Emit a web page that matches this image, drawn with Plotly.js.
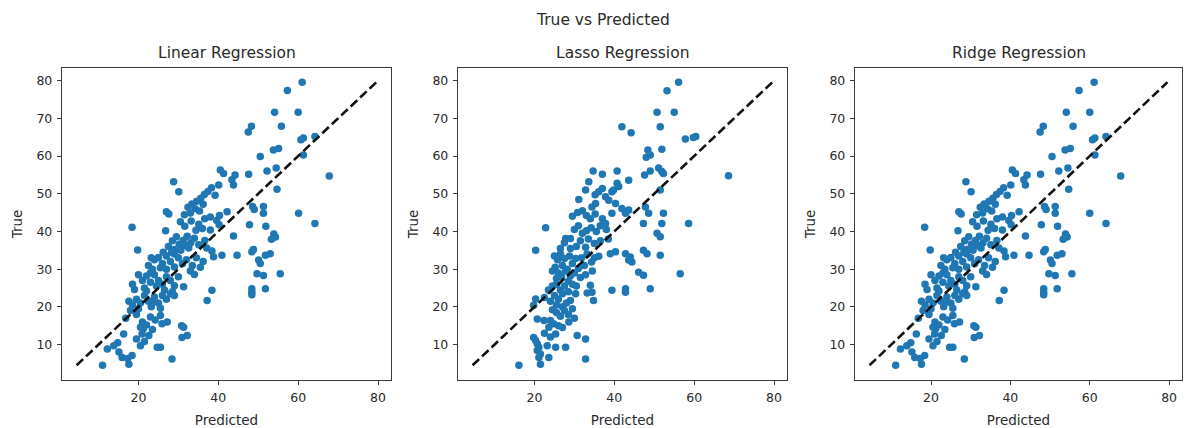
<!DOCTYPE html>
<html>
<head>
<meta charset="utf-8">
<script src="https://cdn.plot.ly/plotly-3.0.1.min.js"></script>
<style>
  html, body { margin: 0; padding: 0; background: #fff; }
  #chart { width: 1186px; height: 428px; }
</style>
</head>
<body>
<div id="chart"></div>
<script>
// Test-set outcomes against model predictions: [predicted, true]
const linearPoints = [
  [61.0,79.6],[57.3,77.4],[54.1,71.6],[60.0,71.6],[55.8,67.9],[47.5,66.4],[48.3,67.9],[60.7,64.3],[61.3,64.8],[64.2,65.2],
  [61.3,60.3],[53.8,61.6],[55.1,62.0],[50.5,59.9],[67.8,54.7],[47.6,55.2],[52.2,56.0],[54.5,56.8],[40.5,56.3],[41.3,55.4],
  [44.2,55.0],[28.8,53.2],[30.1,50.5],[43.4,53.7],[43.8,52.3],[54.7,51.2],[40.1,52.3],[38.3,51.6],[37.4,50.6],[36.5,49.8],
  [39.2,49.6],[35.6,48.8],[34.6,48.0],[33.4,47.3],[32.4,46.4],[36.2,47.2],[34.2,46.0],[35.3,45.4],[33.0,44.9],[31.5,44.4],
  [27.0,45.2],[27.6,44.6],[42.2,45.2],[51.3,46.6],[51.3,44.8],[60.1,44.8],[48.6,46.6],[49.0,45.8],[40.3,44.2],[38.0,43.8],
  [36.6,43.4],[47.8,41.8],[51.9,41.4],[26.8,40.2],[30.5,42.6],[31.6,41.4],[33.2,42.8],[35.1,41.9],[39.6,42.9],[40.2,41.8],
  [36.0,40.8],[34.4,40.3],[38.0,40.4],[18.4,41.1],[64.2,42.1],[53.9,39.3],[54.3,38.5],[53.3,37.9],[43.8,38.8],[19.8,35.1],
  [28.5,37.5],[29.5,38.6],[30.2,36.6],[31.2,37.6],[32.2,38.7],[33.1,37.0],[34.0,38.2],[35.1,36.5],[36.6,37.6],[32.6,35.6],
  [30.6,35.0],[27.5,36.0],[37.1,35.6],[38.4,34.8],[26.2,34.5],[29.0,35.2],[31.8,36.2],
  [48.4,34.6],[48.8,35.2],[40.9,33.7],[44.7,33.7],[50.1,32.4],[50.5,31.5],[51.8,33.7],[53.0,34.1],[38.8,33.3],[24.0,32.5],
  [25.0,33.1],[26.0,31.5],[27.0,33.5],[28.0,32.0],[29.0,34.0],[30.0,33.0],[31.0,31.4],[32.0,32.5],[33.5,31.0],[34.5,33.0],
  [35.5,30.5],[36.2,32.0],[22.5,31.0],[23.5,30.0],[25.5,30.4],[27.0,30.0],[29.0,30.6],[33.0,29.5],[34.0,28.6],[23.2,33.0],[28.3,34.5],
  [49.7,28.8],[51.3,28.3],[55.5,28.8],[48.4,24.8],[48.4,23.9],[51.8,24.8],[38.4,24.4],[31.3,25.3],[18.5,26.0],[19.0,24.6],
  [21.0,27.0],[22.0,28.2],[23.0,26.5],[24.0,28.5],[25.0,27.0],[26.0,26.0],[27.0,28.0],[28.0,27.0],[29.0,25.6],[21.5,25.0],
  [24.5,25.5],[26.5,24.5],[28.5,24.0],[23.0,29.0],[20.0,28.5],[30.0,28.0],
  [48.4,23.2],[37.2,21.7],[17.6,21.5],[18.5,20.5],[19.5,22.0],[20.5,21.0],[21.5,23.0],[22.5,21.5],[23.2,20.0],[24.0,22.6],
  [25.0,21.0],[26.0,23.0],[27.0,22.0],[28.0,23.5],[29.0,23.0],[22.0,24.2],[20.0,19.5],[25.5,19.6],[23.8,21.3],
  [18.0,19.0],[19.5,18.0],[16.8,17.0],[21.0,16.0],[23.0,17.3],[25.5,17.7],[25.9,15.5],[24.2,16.5],[22.0,15.2],[27.2,16.0],
  [30.8,15.0],[21.2,14.2],[23.5,14.0],
  [16.3,12.8],[20.5,14.6],[20.9,12.8],[22.6,12.4],[31.3,14.6],[32.2,12.4],[30.9,11.9],[19.5,11.5],[21.5,10.8],[14.8,10.5],
  [13.8,9.7],[20.5,9.7],[24.7,9.3],[25.5,9.3],
  [15.1,8.0],[15.9,6.6],[12.2,8.8],[17.6,4.8],[18.4,7.1],[11.0,4.5],[28.4,6.2],[17.3,6.3]
];

const lassoPoints = [
  [56.1,79.6],[53.2,77.3],[50.7,71.6],[55.0,71.6],[51.5,67.8],[41.9,67.8],[44.2,66.2],[57.8,64.5],[59.8,64.9],[60.4,65.2],
  [51.9,61.8],[48.4,61.6],[49.0,60.3],[48.0,59.7],[68.6,54.8],[51.1,56.8],[51.9,55.9],[52.3,55.4],[47.6,55.0],[49.0,56.0],
  [40.7,56.0],[34.7,56.0],[37.0,55.2],[43.6,53.6],[33.6,53.2],[40.7,52.8],[41.1,51.9],[39.8,51.0],[39.4,50.5],[37.0,51.4],
  [36.1,50.5],[35.2,49.7],[31.1,48.5],[32.8,51.0],[35.3,47.4],[34.4,46.5],[37.8,49.2],[38.6,48.3],[40.3,47.4],[41.9,46.1],
  [43.6,45.7],[47.8,46.5],[48.6,44.8],[51.5,51.0],[52.3,44.8],[29.5,44.0],[30.8,45.0],[32.0,45.5],[33.0,44.2],[34.0,43.4],
  [35.2,44.6],[39.4,44.8],[42.8,44.8],[37.0,43.4],[37.8,42.1],[47.3,42.1],[51.9,42.1],[58.6,42.1],[22.8,41.0],
  [27.8,38.1],[29.0,38.1],[20.3,35.0],[30.0,40.5],[31.0,41.5],[32.0,39.5],[33.0,40.2],[34.2,41.0],[35.5,40.0],[36.5,41.5],
  [38.0,40.5],[31.5,37.5],[33.5,38.0],[35.0,36.8],[36.5,37.5],[38.5,38.0],[40.3,34.6],[39.0,34.1],[42.8,34.1],[44.0,33.2],
  [43.6,32.4],[44.4,31.9],[47.3,35.0],[48.2,34.1],[51.5,33.7],[50.7,39.5],[51.5,38.6],[36.1,33.4],[34.3,31.9],[30.5,36.0],
  [29.0,35.5],[32.8,35.8],[26.5,35.5],[27.5,37.0],
  [25.0,33.5],[25.8,32.5],[26.5,34.0],[27.0,31.0],[27.5,32.8],[28.2,30.0],[28.8,33.5],[29.5,31.5],[30.3,32.8],[31.0,30.2],
  [31.8,33.0],[32.5,31.0],[33.2,34.0],[25.2,30.5],[26.0,29.0],[26.8,28.0],[27.8,29.5],[29.0,28.2],[30.0,29.0],[31.5,27.8],
  [32.8,28.5],[25.5,27.5],[24.5,29.5],[28.5,26.8],[46.1,29.2],[47.3,28.4],[56.5,28.8],[34.5,29.5],[35.0,33.0],
  [39.4,24.4],[42.8,24.8],[42.8,23.9],[49.0,24.8],[34.0,25.7],[34.4,23.9],[33.2,23.7],[34.8,21.7],[30.3,23.5],[29.0,21.7],
  [20.3,22.1],[19.8,20.4],[24.5,25.5],[25.5,26.0],[26.5,24.5],[27.5,25.5],[28.5,24.0],[25.0,23.0],[26.0,22.0],[27.0,23.5],
  [28.0,21.0],[24.0,21.5],[25.5,20.5],[27.0,20.0],[23.5,24.5],[22.5,22.5],[29.5,26.0],[30.5,25.5],
  [20.7,16.8],[22.4,16.4],[24.0,16.4],[24.8,15.5],[28.6,16.0],[23.6,14.6],[25.5,18.5],[26.5,17.5],[27.5,19.0],[28.5,18.0],
  [29.5,19.5],[26.0,15.0],[27.0,14.5],[24.5,19.2],[30.0,17.0],
  [25.3,12.8],[30.7,12.4],[32.8,11.5],[32.8,6.2],[19.8,11.9],[20.3,11.1],[20.7,10.2],[21.1,9.3],[20.7,8.4],[21.5,7.5],
  [21.1,6.6],[21.5,4.8],[16.1,4.5],[23.2,9.7],[25.3,9.3],[27.8,9.3],[23.6,6.6],[22.5,13.0],[24.0,12.0]
];

const ridgePoints = [
  [61.1,79.6],[57.3,77.4],[54.1,71.6],[60.0,71.6],[55.8,67.9],[47.5,66.4],[48.3,67.9],[60.7,64.3],[61.3,64.8],[64.1,65.2],
  [61.3,60.3],[53.8,61.6],[55.1,62.0],[50.5,59.9],[67.8,54.7],[47.6,55.2],[52.2,56.0],[54.5,56.8],[40.5,56.3],[41.3,55.4],
  [44.2,55.0],[28.8,53.2],[30.1,50.5],[43.4,53.7],[43.8,52.3],[54.7,51.2],[40.1,52.3],[38.3,51.6],[37.4,50.6],[36.5,49.8],
  [39.2,49.6],[35.6,48.8],[34.6,48.0],[33.4,47.3],[32.4,46.4],[36.2,47.2],[34.2,46.0],[35.3,45.4],[33.0,44.9],[31.5,44.4],
  [27.0,45.2],[27.6,44.6],[42.2,45.2],[51.3,46.6],[51.3,44.8],[60.0,44.8],[48.6,46.6],[49.0,45.8],[40.3,44.2],[38.0,43.8],
  [36.6,43.4],[47.8,41.8],[51.9,41.4],[26.8,40.2],[30.5,42.6],[31.6,41.4],[33.2,42.8],[35.1,41.9],[39.6,42.9],[40.2,41.8],
  [36.0,40.8],[34.4,40.3],[38.0,40.4],[18.4,41.1],[64.1,42.1],[53.9,39.3],[54.3,38.5],[53.3,37.9],[43.8,38.8],[19.8,35.1],
  [28.5,37.5],[29.5,38.6],[30.2,36.6],[31.2,37.6],[32.2,38.7],[33.1,37.0],[34.0,38.2],[35.1,36.5],[36.6,37.6],[32.6,35.6],
  [30.6,35.0],[27.5,36.0],[37.1,35.6],[38.4,34.8],[26.2,34.5],[29.0,35.2],[31.8,36.2],
  [48.4,34.6],[48.8,35.2],[40.9,33.7],[44.7,33.7],[50.1,32.4],[50.5,31.5],[51.8,33.7],[53.0,34.1],[38.8,33.3],[24.0,32.5],
  [25.0,33.1],[26.0,31.5],[27.0,33.5],[28.0,32.0],[29.0,34.0],[30.0,33.0],[31.0,31.4],[32.0,32.5],[33.5,31.0],[34.5,33.0],
  [35.5,30.5],[36.2,32.0],[22.5,31.0],[23.5,30.0],[25.5,30.4],[27.0,30.0],[29.0,30.6],[33.0,29.5],[34.0,28.6],[23.2,33.0],[28.3,34.5],
  [49.7,28.8],[51.3,28.3],[55.5,28.8],[48.4,24.8],[48.4,23.9],[51.8,24.8],[38.4,24.4],[31.3,25.3],[18.5,26.0],[19.0,24.6],
  [21.0,27.0],[22.0,28.2],[23.0,26.5],[24.0,28.5],[25.0,27.0],[26.0,26.0],[27.0,28.0],[28.0,27.0],[29.0,25.6],[21.5,25.0],
  [24.5,25.5],[26.5,24.5],[28.5,24.0],[23.0,29.0],[20.0,28.5],[30.0,28.0],
  [48.4,23.2],[37.2,21.7],[17.6,21.5],[18.5,20.5],[19.5,22.0],[20.5,21.0],[21.5,23.0],[22.5,21.5],[23.2,20.0],[24.0,22.6],
  [25.0,21.0],[26.0,23.0],[27.0,22.0],[28.0,23.5],[29.0,23.0],[22.0,24.2],[20.0,19.5],[25.5,19.6],[23.8,21.3],
  [18.0,19.0],[19.5,18.0],[16.8,17.0],[21.0,16.0],[23.0,17.3],[25.5,17.7],[25.9,15.5],[24.2,16.5],[22.0,15.2],[27.2,16.0],
  [30.8,15.0],[21.2,14.2],[23.5,14.0],
  [16.3,12.8],[20.5,14.6],[20.9,12.8],[22.6,12.4],[31.3,14.6],[32.2,12.4],[30.9,11.9],[19.5,11.5],[21.5,10.8],[14.9,10.5],
  [13.9,9.7],[20.5,9.7],[24.7,9.3],[25.5,9.3],
  [15.2,8.0],[15.9,6.6],[12.3,8.8],[17.6,4.8],[18.4,7.1],[11.1,4.5],[28.4,6.2],[17.3,6.3]
];

const panelTitles = ['Linear Regression', 'Lasso Regression', 'Ridge Regression'];
const panelData = [linearPoints, lassoPoints, ridgePoints];
const xTicks = [20, 40, 60, 80];
const yTicks = [10, 20, 30, 40, 50, 60, 70, 80];

const W = 1186, H = 428;
const FONT = 'DejaVu Sans, sans-serif';
const TEXT = '#2a2a2a';
// pixel frames of the three axes boxes
const boxes = [[62, 391], [458, 787], [855, 1182]];
const boxTop = 68, boxBottom = 380;

const traces = [];
const layout = {
  width: W, height: H,
  margin: {l: 0, r: 0, t: 0, b: 0},
  paper_bgcolor: '#fff', plot_bgcolor: '#fff',
  showlegend: false,
  font: {family: FONT, color: TEXT},
  annotations: [{
    text: 'True vs Predicted', xref: 'paper', yref: 'paper',
    x: 603 / W, y: 1 - 20 / H, xanchor: 'center', yanchor: 'middle',
    showarrow: false, font: {family: FONT, size: 15.5, color: TEXT}
  }]
};

panelData.forEach((pts, i) => {
  const sfx = i === 0 ? '' : String(i + 1);
  const xa = 'x' + sfx, ya = 'y' + sfx;
  const pred = pts.map(p => p[0]);
  const actual = pts.map(p => p[1]);
  const lo = Math.min(...actual), hi = Math.max(...actual);

  traces.push({
    type: 'scatter', mode: 'markers', x: pred, y: actual, xaxis: xa, yaxis: ya,
    marker: {color: '#1f77b4', size: 7.5, line: {width: 0}}, hoverinfo: 'skip'
  });
  traces.push({
    type: 'scatter', mode: 'lines', x: [lo, hi], y: [lo, hi], xaxis: xa, yaxis: ya,
    line: {color: '#111', width: 2.6, dash: '9px,4px'}, hoverinfo: 'skip'
  });

  const axisCommon = {
    showgrid: false, zeroline: false, showline: true, mirror: true,
    linecolor: '#3a3a3a', linewidth: 1.2, ticks: 'outside', ticklen: 4,
    tickcolor: '#3a3a3a', tickwidth: 1,
    tickfont: {family: FONT, size: 12.5, color: TEXT}
  };
  const [x0, x1] = boxes[i];
  layout['xaxis' + sfx] = Object.assign({}, axisCommon, {
    domain: [x0 / W, x1 / W], range: [0.85, 83.25], anchor: ya,
    tickvals: xTicks, ticktext: xTicks.map(String), ticklabelstandoff: 2,
    title: {text: 'Predicted', font: {family: FONT, size: 13.5, color: TEXT}, standoff: 11}
  });
  layout['yaxis' + sfx] = Object.assign({}, axisCommon, {
    domain: [1 - boxBottom / H, 1 - boxTop / H], range: [0.6, 83.35], anchor: xa,
    tickvals: yTicks, ticktext: yTicks.map(String), ticklabelstandoff: 2,
    title: {text: 'True', font: {family: FONT, size: 13.5, color: TEXT}, standoff: 10}
  });
  layout.annotations.push({
    text: panelTitles[i], xref: 'paper', yref: 'paper',
    x: (x0 + x1) / 2 / W, y: 1 - 53 / H, xanchor: 'center', yanchor: 'middle',
    showarrow: false, font: {family: FONT, size: 15.5, color: TEXT}
  });
});

Plotly.newPlot('chart', traces, layout, {staticPlot: true, displayModeBar: false});
</script>
</body>
</html>
